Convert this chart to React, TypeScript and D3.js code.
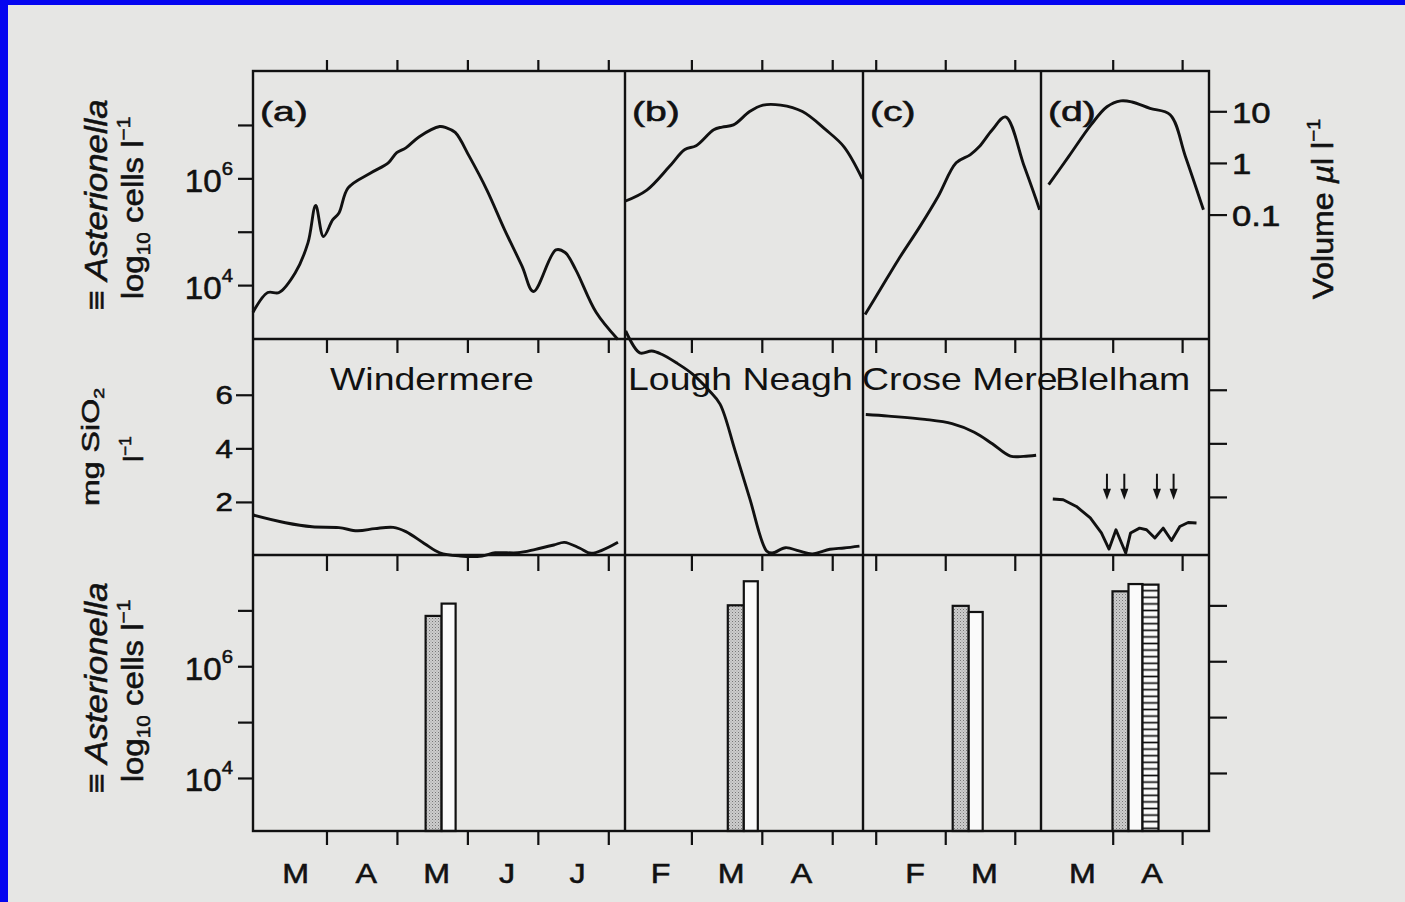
import React from "react";
import * as d3 from "d3";

// lakes, left to right
const lakeNames = ["Windermere", "Lough Neagh", "Crose Mere", "Blelham"];
const panelTags = ["(a)", "(b)", "(c)", "(d)"];

// time axis per lake, in months (0 = 1 Jan)
const monthDomains = [[1.95, 7.23], [1.05, 4.43], [0.81, 3.37], [1.96, 4.38]];
const monthTicks = [[3, 4, 5, 6, 7], [2, 3, 4], [1, 2, 3], [3, 4]];
const monthLabelPos = [[2.5, 3.5, 4.5, 5.5, 6.5], [1.5, 2.5, 3.5], [1.5, 2.5], [2.5, 3.5]];
const monthLabelText = [["M", "A", "M", "J", "J"], ["F", "M", "A"], ["F", "M"], ["M", "A"]];

// Asterionella, [month, log10 cells l-1]
const windermereCells = [
  [1.95, 3.5], [2.16, 3.87], [2.32, 3.87], [2.55, 4.24], [2.73, 4.8], [2.84, 5.5], [2.95, 4.92],
  [3.08, 5.23], [3.17, 5.36], [3.3, 5.83], [3.62, 6.11], [3.87, 6.3], [3.99, 6.49], [4.12, 6.58],
  [4.31, 6.79], [4.6, 6.98], [4.69, 6.96], [4.82, 6.87], [5.02, 6.42], [5.27, 5.79], [5.52, 5.05],
  [5.77, 4.36], [5.93, 3.89], [6.25, 4.67], [6.38, 4.62], [6.53, 4.3], [6.82, 3.5], [7.13, 2.99],
];
const neaghCells = [
  [1.05, 5.58], [1.36, 5.79], [1.68, 6.23], [1.9, 6.55], [2.06, 6.62], [2.31, 6.92], [2.43, 6.97],
  [2.59, 7.01], [2.82, 7.26], [3.01, 7.38], [3.26, 7.38], [3.57, 7.26], [3.9, 6.92], [4.16, 6.6], [4.42, 6.0],
];
const croseCells = [
  [0.84, 3.46], [1.06, 3.93], [1.32, 4.49], [1.63, 5.11], [1.89, 5.67], [2.15, 6.3], [2.35, 6.45],
  [2.48, 6.6], [2.67, 6.92], [2.86, 7.16], [3.13, 6.23], [3.35, 5.42],
];
const blelhamCells = [
  [2.07, 5.89], [2.36, 6.42], [2.68, 7.01], [2.91, 7.35], [3.11, 7.46], [3.27, 7.44], [3.53, 7.32],
  [3.82, 7.2], [4.04, 6.42], [4.3, 5.42],
];

// silica, [month, mg SiO2 l-1]
const windermereSi = [
  [1.95, 1.53], [2.41, 1.24], [2.79, 1.09], [3.17, 1.06], [3.43, 0.94], [3.68, 1.02], [3.94, 1.07],
  [4.12, 0.91], [4.38, 0.47], [4.6, 0.12], [4.89, 0.0], [5.2, 0.0], [5.39, 0.12], [5.71, 0.12],
  [5.96, 0.25], [6.22, 0.41], [6.37, 0.51], [6.59, 0.29], [6.75, 0.1], [7.13, 0.51],
];
const neaghSi = [
  [1.06, 8.4], [1.26, 7.58], [1.43, 7.65], [1.57, 7.53], [1.78, 7.21], [2.01, 6.79], [2.25, 6.16],
  [2.4, 5.67], [2.61, 3.96], [2.82, 2.16], [3.06, 0.19], [3.14, 0.11], [3.33, 0.31], [3.52, 0.19],
  [3.71, 0.08], [3.96, 0.25], [4.16, 0.3], [4.38, 0.37],
];
const croseSi = [
  [0.85, 5.28], [1.18, 5.22], [1.7, 5.1], [2.09, 4.94], [2.41, 4.62], [2.67, 4.19], [2.93, 3.73],
  [3.12, 3.72], [3.3, 3.76],
];
const blelhamSi = [
  [2.13, 2.13], [2.28, 2.1], [2.47, 1.85], [2.67, 1.42], [2.83, 0.86], [2.94, 0.26], [3.04, 0.98],
  [3.18, 0.11], [3.25, 0.86], [3.38, 1.04], [3.48, 0.98], [3.6, 0.67], [3.72, 1.04], [3.84, 0.58],
  [3.96, 1.1], [4.08, 1.25], [4.2, 1.23],
];
const blelhamArrows = [2.91, 3.16, 3.63, 3.87];

// bars: stippled, open, hatched (log10 cells l-1)
const barKinds = ["stippled", "open", "hatched"];
const barStart = [4.4, 2.51, 2.1, 2.99];
const barValues = [[6.91, 7.13], [7.1, 7.53], [7.09, 6.98], [7.35, 7.48, 7.47]];

const cellsSeries = [windermereCells, neaghCells, croseCells, blelhamCells];
const silicaSeries = [windermereSi, neaghSi, croseSi, blelhamSi];

const cellTicks = [4, 5, 6, 7];
const cellLabels = [4, 6];
const silicaTicks = [2, 4, 6];
const volumeTicks = [10, 1, 0.1];

// layout
const W = 1405;
const H = 902;
const edges = [253, 625, 863, 1041, 1209];
const rowTop = 71;
const row1 = 339;
const row2 = 555;
const rowBottom = 831;
const font = "'Liberation Sans', Arial, Helvetica, sans-serif";
const ink = "#111";
const lakeLabelX = [330, 628, 862, 1055];
const barWidths = { stippled: 16, open: 14, hatched: 16 };

const yCells = d3.scaleLog().domain([10 ** 3, 10 ** 8.02]).range([row1, rowTop]);
const yVolume = d3.scaleLog().domain([10 ** -3.4, 10 ** 1.79]).range([row1, rowTop]);
const ySilica = d3.scaleLinear().domain([0, 8.1]).range([row2 + 1, row1]);
const yBars = d3.scaleLog().domain([10 ** 3.06, 10 ** 8]).range([rowBottom, row2]);

const xScales = monthDomains.map((dom, i) =>
  d3.scaleLinear().domain(dom).range([edges[i], edges[i + 1]])
);

function T({ x, y, size, sx = 1, rot = 0, anchor = "start", weight = 0.55, children }) {
  return (
    <text
      transform={`translate(${x},${y}) rotate(${rot}) scale(${sx},1)`}
      fontSize={size}
      textAnchor={anchor}
      fontFamily={font}
      fill={ink}
      stroke={weight > 0 ? ink : "none"}
      strokeWidth={weight}
    >
      {children}
    </text>
  );
}

function CellsTitle({ cy }) {
  return (
    <g>
      <T x={107} y={cy} size={31} sx={1.12} rot={-90} anchor="middle">
        <tspan>≡ </tspan>
        <tspan fontStyle="italic">Asterionella</tspan>
      </T>
      <T x={143} y={cy + 3} size={30} sx={1.1} rot={-90} anchor="middle">
        <tspan>log</tspan>
        <tspan fontSize={19} dy={7}>10</tspan>
        <tspan dy={-7}>{" cells l"}</tspan>
        <tspan fontSize={19} dy={-13}>−1</tspan>
      </T>
    </g>
  );
}

export default function App() {
  const curve = d3.curveCatmullRom.alpha(0.5);

  return (
    <svg
      width={W}
      height={H}
      style={{ position: "absolute", left: 0, top: 0, display: "block" }}
    >
      <defs>
        <pattern id="stipple" width={3} height={3} patternUnits="userSpaceOnUse">
          <rect width={3} height={3} fill="#cdcdcd" />
          <rect x={0} y={0} width={1} height={1} fill="#777" />
          <rect x={1.5} y={1.5} width={1} height={1} fill="#999" />
        </pattern>
        <pattern id="hatch" width={6} height={6.6} patternUnits="userSpaceOnUse">
          <rect width={6} height={6.6} fill="#fafafa" />
          <line x1={0} x2={6} y1={3.3} y2={3.3} stroke={ink} strokeWidth={1.7} />
        </pattern>
      </defs>

      {/* scanned page */}
      <rect width={W} height={H} fill="#0505f0" />
      <rect x={8} y={5} width={W - 8} height={H - 5} fill="#e6e6e4" />

      {/* panel tick marks on time axes */}
      {xScales.map((xs, i) => (
        <g key={`t${i}`} stroke={ink} strokeWidth={2.2}>
          {monthTicks[i].map((m) => (
            <g key={m}>
              <line x1={xs(m)} x2={xs(m)} y1={rowTop - 11} y2={rowTop} />
              <line x1={xs(m)} x2={xs(m)} y1={row1} y2={row1 + 14} />
              <line x1={xs(m)} x2={xs(m)} y1={row2} y2={row2 + 16} />
              <line x1={xs(m)} x2={xs(m)} y1={rowBottom} y2={rowBottom + 14} />
            </g>
          ))}
        </g>
      ))}

      {/* month labels */}
      {xScales.map((xs, i) =>
        monthLabelPos[i].map((m, j) => (
          <T key={`m${i}-${j}`} x={xs(m) + 4} y={883} size={28} sx={1.15} anchor="middle">
            {monthLabelText[i][j]}
          </T>
        ))
      )}

      {/* left and right axes */}
      <g stroke={ink} strokeWidth={2.2}>
        {cellTicks.map((e) => (
          <line key={`lc${e}`} x1={edges[0] - 15} x2={edges[0]} y1={yCells(10 ** e)} y2={yCells(10 ** e)} />
        ))}
        {silicaTicks.map((v) => (
          <line key={`ls${v}`} x1={edges[0] - 17} x2={edges[0]} y1={ySilica(v)} y2={ySilica(v)} />
        ))}
        {cellTicks.map((e) => (
          <line key={`lb${e}`} x1={edges[0] - 15} x2={edges[0]} y1={yBars(10 ** e)} y2={yBars(10 ** e)} />
        ))}
        {volumeTicks.map((v) => (
          <line key={`rv${v}`} x1={edges[4]} x2={edges[4] + 18} y1={yVolume(v)} y2={yVolume(v)} />
        ))}
        {silicaTicks.map((v) => (
          <line key={`rs${v}`} x1={edges[4]} x2={edges[4] + 18} y1={ySilica(v) - 5} y2={ySilica(v) - 5} />
        ))}
        {cellTicks.map((e) => (
          <line key={`rb${e}`} x1={edges[4]} x2={edges[4] + 18} y1={yBars(10 ** e) - 5} y2={yBars(10 ** e) - 5} />
        ))}
      </g>

      {cellLabels.map((e) => (
        <g key={`cl${e}`}>
          <T x={233} y={yCells(10 ** e) + 13} size={31} sx={1.07} anchor="end">
            <tspan>10</tspan>
            <tspan fontSize={19} dy={-17}>{e}</tspan>
          </T>
          <T x={233} y={yBars(10 ** e) + 13} size={31} sx={1.07} anchor="end">
            <tspan>10</tspan>
            <tspan fontSize={19} dy={-17}>{e}</tspan>
          </T>
        </g>
      ))}
      {silicaTicks.map((v) => (
        <T key={`sl${v}`} x={233} y={ySilica(v) + 9} size={25} sx={1.25} anchor="end">
          {v}
        </T>
      ))}
      {volumeTicks.map((v) => (
        <T key={`vl${v}`} x={1232} y={yVolume(v) + 11} size={30} sx={1.16}>
          {v}
        </T>
      ))}

      {/* axis titles */}
      <CellsTitle cy={205} />
      <CellsTitle cy={688} />
      <T x={99} y={447} size={23} sx={1.4} rot={-90} anchor="middle">
        <tspan>mg SiO</tspan>
        <tspan fontSize={14} dy={5}>2</tspan>
      </T>
      <T x={143} y={449} size={27} rot={-90} anchor="middle">
        <tspan>l</tspan>
        <tspan fontSize={17} dy={-12}>−1</tspan>
      </T>
      <T x={1333} y={209} size={30} sx={1.07} rot={-90} anchor="middle">
        <tspan>Volume </tspan>
        <tspan fontStyle="italic">µ</tspan>
        <tspan>{"l l"}</tspan>
        <tspan fontSize={19} dy={-13}>−1</tspan>
      </T>

      {/* bars */}
      {barValues.map((vals, i) => {
        let x = xScales[i](barStart[i]);
        return (
          <g key={`b${i}`}>
            {vals.map((v, j) => {
              const kind = barKinds[j];
              const w = barWidths[kind];
              const x0 = x;
              x += w;
              const fill = kind === "stippled" ? "url(#stipple)" : kind === "hatched" ? "url(#hatch)" : "#fafafa";
              return (
                <rect
                  key={kind}
                  x={x0}
                  y={yBars(10 ** v)}
                  width={w}
                  height={rowBottom - yBars(10 ** v)}
                  fill={fill}
                  stroke={ink}
                  strokeWidth={2.2}
                />
              );
            })}
          </g>
        );
      })}

      {/* curves */}
      {cellsSeries.map((s, i) => {
        const line = d3.line().x((d) => xScales[i](d[0])).y((d) => yCells(10 ** d[1])).curve(curve);
        return <path key={`c${i}`} d={line(s)} fill="none" stroke={ink} strokeWidth={2.9} strokeLinejoin="round" />;
      })}
      {silicaSeries.map((s, i) => {
        const line = d3
          .line()
          .x((d) => xScales[i](d[0]))
          .y((d) => ySilica(d[1]))
          .curve(i === 3 ? d3.curveLinear : curve);
        return <path key={`s${i}`} d={line(s)} fill="none" stroke={ink} strokeWidth={2.9} strokeLinejoin="round" />;
      })}

      {/* mixing arrows, Blelham */}
      {blelhamArrows.map((m) => {
        const x = xScales[3](m);
        const tip = ySilica(2.1);
        return (
          <g key={`a${m}`}>
            <line x1={x} x2={x} y1={tip - 26} y2={tip - 8} stroke={ink} strokeWidth={2} />
            <path d={`M${x - 4},${tip - 11}L${x + 4},${tip - 11}L${x},${tip}Z`} fill={ink} />
          </g>
        );
      })}

      {/* frames */}
      <g fill="none" stroke={ink} strokeWidth={2.4}>
        <rect x={edges[0]} y={rowTop} width={edges[4] - edges[0]} height={rowBottom - rowTop} />
        <line x1={edges[0]} x2={edges[4]} y1={row1} y2={row1} />
        <line x1={edges[0]} x2={edges[4]} y1={row2} y2={row2} />
        {edges.slice(1, 4).map((x) => (
          <line key={`v${x}`} x1={x} x2={x} y1={rowTop} y2={rowBottom} />
        ))}
      </g>

      {/* panel tags and lake names */}
      {panelTags.map((tag, i) => (
        <T key={tag} x={edges[i] + 7} y={121} size={27} sx={1.45}>
          {tag}
        </T>
      ))}
      {lakeNames.map((name, i) => (
        <T key={name} x={lakeLabelX[i]} y={390} size={32} sx={1.17} weight={0}>
          {name}
        </T>
      ))}
    </svg>
  );
}
